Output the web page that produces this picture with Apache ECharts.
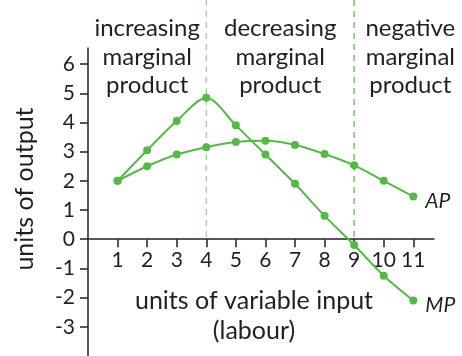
<!DOCTYPE html>
<html>
<head>
<meta charset="utf-8">
<script src="https://cdn.jsdelivr.net/npm/echarts@6/dist/echarts.min.js"></script>
<style>
  html, body { margin: 0; padding: 0; background: #ffffff; }
  #chart { width: 462px; height: 356px; }
</style>
</head>
<body>
<div id="chart"></div>
<script>
// Units of labour employed
const inputs = [1, 2, 3, 4, 5, 6, 7, 8, 9, 10, 11];
// Marginal product of each extra unit of labour
const marginalProduct = [2, 3.05, 4.05, 4.85, 3.9, 2.9, 1.9, 0.8, -0.2, -1.25, -2.1];
// Average product per unit of labour
const averageProduct = [2, 2.5, 2.9, 3.15, 3.33, 3.37, 3.23, 2.92, 2.53, 2.0, 1.46];
// Output ticks
const outputTicks = [-3, -2, -1, 0, 1, 2, 3, 4, 5, 6];
// Stage boundaries (labour units) and the stage captions
const stageBoundaries = [4, 9];
const stageCentres = [2, 6.5, 10.9];
const stageLabels = [
  'increasing\nmarginal\nproduct',
  'decreasing\nmarginal\nproduct',
  'negative\nmarginal\nproduct'
];

const GREEN = '#56b947';
const INK = '#231f20';
const FONT = 'Lato, "Open Sans", sans-serif';
const Y_MIN = -4;

const chart = echarts.init(document.getElementById('chart'), null, { renderer: 'canvas' });

function curve(name, values) {
  return {
    name: name,
    type: 'line',
    data: inputs.map((x, i) => [x, values[i]]),
    smooth: 0.3,
    symbol: 'circle',
    symbolSize: 8,
    lineStyle: { color: GREEN, width: 2 },
    itemStyle: { color: GREEN },
    clip: false,
    z: 5,
    endLabel: {
      show: true,
      formatter: name,
      color: INK,
      fontFamily: FONT,
      fontStyle: 'italic',
      fontSize: 21,
      distance: 12,
      offset: [0, 5]
    }
  };
}

chart.setOption({
  animation: false,
  backgroundColor: '#ffffff',
  grid: { left: 88, right: 28, top: 48, bottom: 0, containLabel: false, outerBoundsMode: 'none' },
  xAxis: {
    type: 'value',
    min: 0,
    max: 11.7,
    axisLine: { onZero: false, lineStyle: { color: INK, width: 1.5 } },
    axisTick: { show: true, customValues: inputs, length: 8, lineStyle: { color: INK, width: 1.5 } },
    axisLabel: { customValues: inputs, color: INK, fontFamily: FONT, fontSize: 21, margin: 11 },
    splitLine: { show: false }
  },
  yAxis: {
    type: 'value',
    min: Y_MIN,
    max: 6.55,
    axisLine: { show: true, onZero: false, lineStyle: { color: INK, width: 1.5 } },
    axisTick: { show: true, customValues: outputTicks, length: 8, lineStyle: { color: INK, width: 1.5 } },
    axisLabel: { customValues: outputTicks, color: INK, fontFamily: FONT, fontSize: 21, margin: 13 },
    splitLine: { show: false }
  },
  series: [
    curve('AP', averageProduct),
    curve('MP', marginalProduct)
  ]
});

// Lift the labour axis so that it runs along zero output
const zeroY = chart.convertToPixel({ gridIndex: 0 }, [0, 0])[1];
const floorY = chart.convertToPixel({ gridIndex: 0 }, [0, Y_MIN])[1];
chart.setOption({ xAxis: { offset: zeroY - floorY } });

// Guide lines, stage captions and axis titles, placed through the chart's scales
const graphics = [];

stageBoundaries.forEach((b, i) => {
  const px = chart.convertToPixel({ gridIndex: 0 }, [b, 0])[0];
  graphics.push({
    type: 'line',
    shape: { x1: px, y1: 0, x2: px, y2: zeroY },
    style: { stroke: i === 0 ? '#9bd592' : '#5cbf4e', lineWidth: 1.3, lineDash: [6, 5] },
    z: 1
  });
});

stageCentres.forEach((c, i) => {
  const px = chart.convertToPixel({ gridIndex: 0 }, [c, 0])[0];
  graphics.push({
    type: 'text',
    x: px,
    y: 57,
    style: {
      text: stageLabels[i],
      fill: INK,
      font: '24px ' + FONT,
      lineHeight: 28.5,
      textAlign: 'center',
      textVerticalAlign: 'middle'
    },
    z: 10
  });
});

graphics.push({
  type: 'text',
  x: 25,
  y: 189,
  rotation: Math.PI / 2,
  style: {
    text: 'units of output',
    fill: INK,
    font: '25px ' + FONT,
    textAlign: 'center',
    textVerticalAlign: 'middle'
  }
});

graphics.push({
  type: 'text',
  x: 254,
  y: 316,
  style: {
    text: 'units of variable input\n(labour)',
    fill: INK,
    font: '25px ' + FONT,
    lineHeight: 30,
    textAlign: 'center',
    textVerticalAlign: 'middle'
  }
});

chart.setOption({ graphic: graphics });
</script>
</body>
</html>
